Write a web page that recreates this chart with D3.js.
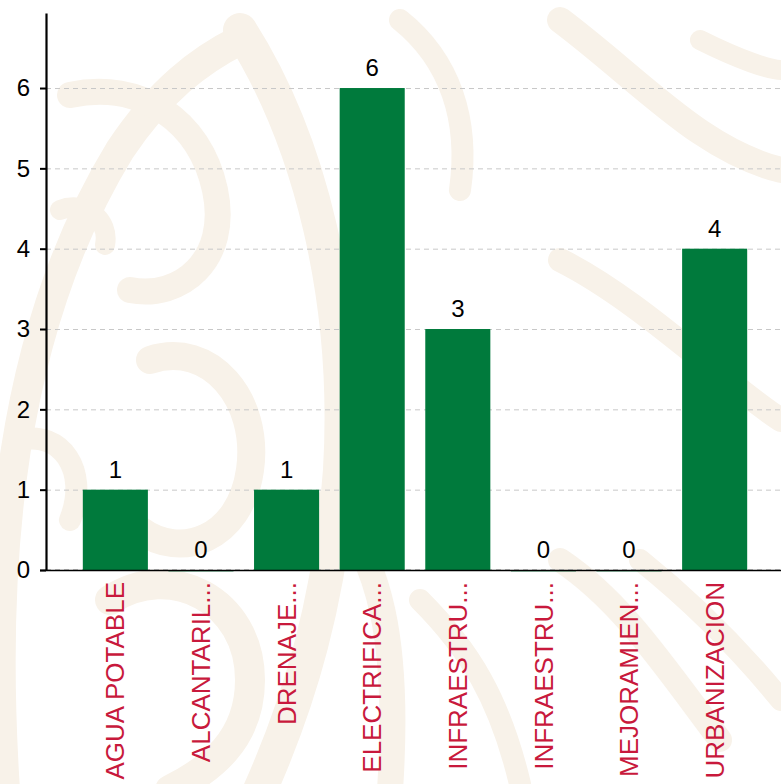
<!DOCTYPE html>
<html>
<head>
<meta charset="utf-8">
<script src="https://cdn.jsdelivr.net/npm/d3@7"></script>
<style>
  html, body { margin: 0; padding: 0; background: #fff; }
  svg { display: block; }
</style>
</head>
<body>
<svg id="chart" width="781" height="784"></svg>
<script>
// datos
var categories = [
  "AGUA POTABLE", "ALCANTARIL...", "DRENAJE...", "ELECTRIFICA...",
  "INFRAESTRU...", "INFRAESTRU...", "MEJORAMIEN...", "URBANIZACION"
];
var values = [1, 0, 1, 6, 3, 0, 0, 4];
var yTicks = [0, 1, 2, 3, 4, 5, 6];

// colores
var BAR_COLOR = "#007a3c";
var LABEL_COLOR = "#c8193c";
var WATERMARK = "#f8f2e9";

var W = 781, H = 784;
var svg = d3.select("#chart")
  .style("font-family", "'Liberation Sans', Arial, Helvetica, sans-serif");

// fondo (marca de agua aproximada)
function drawWatermark(){
  var g = svg.append("g")
    .attr("fill", "none")
    .attr("stroke", WATERMARK)
    .attr("stroke-linecap", "round");
  var paths = [
    ["M 5 790 C -10 560 10 330 120 150 C 160 90 200 60 240 40", 30],
    ["M 70 95 C 140 80 200 120 215 190 C 230 260 180 300 130 290", 26],
    ["M 60 210 C 85 200 110 220 105 245", 20],
    ["M 240 30 C 310 140 350 300 340 470 C 330 600 300 700 260 790", 34],
    ["M 150 360 C 210 340 260 400 250 470 C 240 540 180 560 140 530", 28],
    ["M 20 440 C 60 430 90 470 70 520", 22],
    ["M 110 600 C 170 560 250 600 250 680 C 250 740 210 770 170 790", 30],
    ["M 330 500 C 380 560 400 640 390 790", 26],
    ["M 400 20 C 450 60 470 120 460 190", 22],
    ["M 560 20 C 640 80 700 150 781 170", 26],
    ["M 700 40 C 740 60 770 70 781 70", 20],
    ["M 560 260 C 640 300 720 380 781 420", 24],
    ["M 560 560 C 620 600 660 660 720 740", 24],
    ["M 640 560 C 690 600 740 650 781 700", 22],
    ["M 420 600 C 470 650 500 700 520 784", 22]
  ];
  g.selectAll("path")
    .data(paths)
    .enter()
    .append("path")
    .attr("d", function(d){ return d[0]; })
    .attr("stroke-width", function(d){ return d[1]; });
}
drawWatermark();

// escalas
var AXIS_X = 46, BASE_Y = 570, TOP_Y = 13;
var x = d3.scaleBand()
  .domain(d3.range(categories.length))
  .range([AXIS_X, 784])
  .paddingInner(0.24)
  .paddingOuter(0.43);
var y = d3.scaleLinear()
  .domain([0, 6.934])
  .range([BASE_Y, TOP_Y]);

// rejilla
svg.append("g")
  .selectAll("line")
  .data(yTicks)
  .enter()
  .append("line")
  .attr("x1", AXIS_X)
  .attr("x2", W)
  .attr("y1", function(d){ return y(d) - (d === 0 ? 1 : 0) + 0.5; })
  .attr("y2", function(d){ return y(d) - (d === 0 ? 1 : 0) + 0.5; })
  .attr("stroke", "#c8c8c8")
  .attr("stroke-width", 1)
  .attr("stroke-dasharray", "5,4");

// barras
svg.append("g")
  .selectAll("rect")
  .data(values)
  .enter()
  .append("rect")
  .attr("x", function(d, i){ return x(i); })
  .attr("y", function(d){ return d > 0 ? y(d) : BASE_Y; })
  .attr("width", x.bandwidth())
  .attr("height", function(d){ return d > 0 ? BASE_Y - y(d) : 1.5; })
  .attr("fill", BAR_COLOR)
  .attr("opacity", function(d){ return d > 0 ? 1 : 0.7; });

// eje x
svg.append("line")
  .attr("x1", AXIS_X - 6)
  .attr("x2", W)
  .attr("y1", BASE_Y + 0.5)
  .attr("y2", BASE_Y + 0.5)
  .attr("stroke", "#000")
  .attr("stroke-width", 1.5);

// eje y
var yAxis = svg.append("g")
  .attr("transform", "translate(" + AXIS_X + ",0)")
  .call(d3.axisLeft(y)
    .tickValues(yTicks)
    .tickFormat(d3.format("d"))
    .tickSize(6)
    .tickSizeOuter(0)
    .tickPadding(10));
yAxis.select(".domain").attr("stroke", "#000").attr("stroke-width", 2.2);
yAxis.selectAll(".tick line").attr("stroke", "#000").attr("stroke-width", 2);
yAxis.selectAll(".tick text")
  .attr("fill", "#000")
  .style("font-size", "24px")
  .style("font-family", "'Liberation Sans', Arial, sans-serif");

// valores sobre barras
svg.append("g")
  .selectAll("text")
  .data(values)
  .enter()
  .append("text")
  .attr("x", function(d, i){ return x(i) + x.bandwidth() / 2; })
  .attr("y", function(d){ return y(d) - 12; })
  .attr("text-anchor", "middle")
  .attr("fill", "#000")
  .style("font-size", "24px")
  .text(function(d){ return d; });

// etiquetas de categoría
svg.append("g")
  .selectAll("text")
  .data(categories)
  .enter()
  .append("text")
  .attr("transform", function(d, i){
    return "translate(" + (x(i) + x.bandwidth() / 2) + "," + (BASE_Y + 12) + ") rotate(-90)";
  })
  .attr("text-anchor", "end")
  .attr("dy", "0.35em")
  .attr("fill", LABEL_COLOR)
  .style("font-size", "26px")
  .text(function(d){ return d; });
</script>
</body>
</html>
